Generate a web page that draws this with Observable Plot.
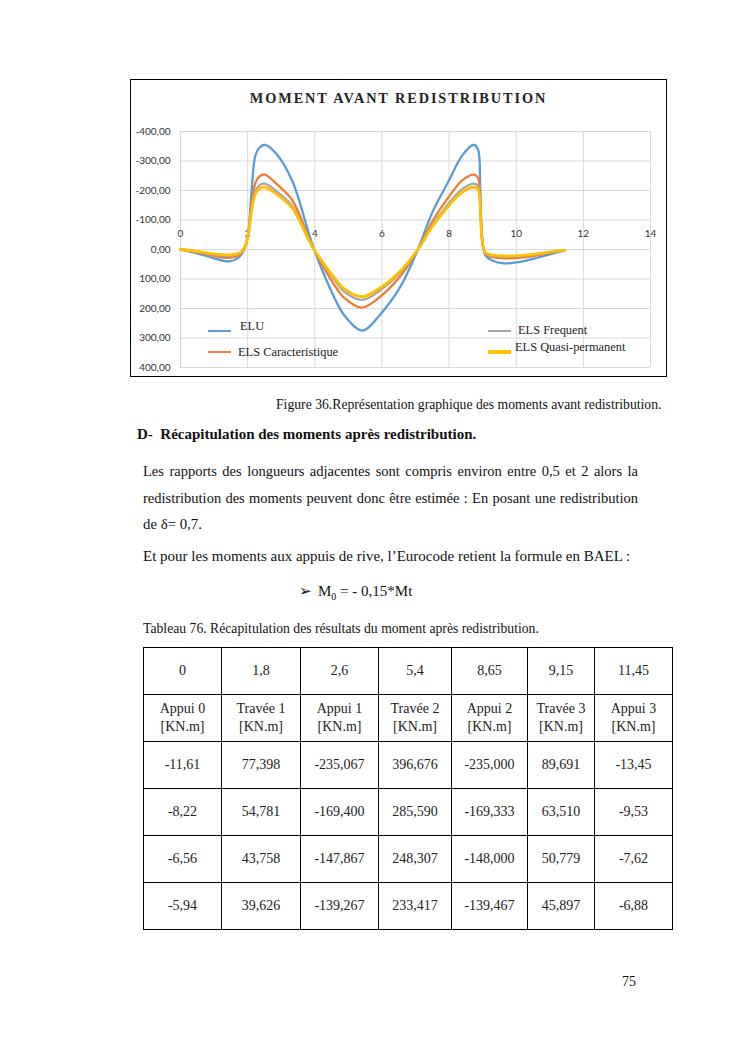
<!DOCTYPE html>
<html>
<head>
<meta charset="utf-8">
<script src="https://cdn.jsdelivr.net/npm/d3@7"></script>
<script src="https://cdn.jsdelivr.net/npm/@observablehq/plot@0.6"></script>
<style>
  html, body { margin: 0; padding: 0; background: #fff; }
  #page { position: relative; width: 745px; height: 1053px; overflow: hidden; font-family: "Liberation Serif", serif; color: #111; }
  .abs { position: absolute; white-space: nowrap; }
  .just { position: absolute; width: 495px; text-align: justify; text-align-last: justify; white-space: nowrap; font-size: 14.5px; line-height: 19px; }
  #chart { position: absolute; left: 130px; top: 79px; width: 537px; height: 298px; }
  #chartBorder { position: absolute; left: 130px; top: 79px; width: 537px; height: 298px; border: 1.6px solid #000; box-sizing: border-box; pointer-events: none; }
  .leg-line { position: absolute; }
  .leg-text { position: absolute; font-family: "Liberation Serif", serif; font-size: 12.4px; line-height: 14px; white-space: nowrap; color: #222; }
  table.recap { position: absolute; left: 143px; top: 647px; width: 529px; table-layout: fixed; border-collapse: collapse; font-family: "Liberation Serif", serif; font-size: 14px; color: #222; }
  table.recap td { border: 1px solid #000; text-align: center; vertical-align: middle; padding: 0; height: 46px; line-height: 18px; }
</style>
</head>
<body>
<div id="page">
  <div id="chart"></div>
  <div id="chartBorder"></div>
  <div class="abs" style="left:130px;width:537px;top:89px;text-align:center;font-family:'Liberation Serif',serif;font-weight:bold;font-size:14.3px;letter-spacing:1.9px;line-height:18px;color:#222;">MOMENT AVANT REDISTRIBUTION</div>
  <div id="legend"></div>

  <div class="abs" style="left:276px;top:396px;font-size:13.7px;line-height:17px;">Figure 36.Représentation graphique des moments avant redistribution.</div>
  <div class="abs" style="left:137px;top:425px;font-size:15px;font-weight:bold;line-height:19px;">D-&nbsp; Récapitulation des moments après redistribution.</div>
  <div class="just" style="left:143px;top:462px;">Les rapports des longueurs adjacentes sont compris environ entre 0,5 et 2 alors la</div>
  <div class="just" style="left:143px;top:489px;">redistribution des moments peuvent donc être estimée : En posant une redistribution</div>
  <div class="abs" style="left:143px;top:515px;font-size:14.8px;line-height:19px;">de δ= 0,7.</div>
  <div class="abs" style="left:143px;top:547px;font-size:15px;line-height:19px;">Et pour les moments aux appuis de rive, l’Eurocode retient la formule en BAEL :</div>
  <div class="abs" style="left:299px;top:582px;font-size:15px;line-height:19px;font-family:'DejaVu Sans',sans-serif;">➢</div>
  <div class="abs" style="left:318px;top:582px;font-size:15px;line-height:19px;">M<sub style="font-size:10px;">0</sub> = - 0,15*Mt</div>
  <div class="abs" style="left:143px;top:620px;font-size:13.7px;line-height:17px;">Tableau 76. Récapitulation des résultats du moment après redistribution.</div>
  <table class="recap" id="recap"></table>
  <div class="abs" style="left:622px;top:973px;font-size:14px;line-height:18px;">75</div>
</div>
<script>
// ---- chart data ----
const xTicks = [0, 2, 4, 6, 8, 10, 12, 14];
const yTicks = [-400, -300, -200, -100, 0, 100, 200, 300, 400];
const seriesNames = ["ELU", "ELS Caracteristique", "ELS Frequent", "ELS Quasi-permanent"];
const seriesColors = ["#5B9BD5", "#ED7D31", "#A5A5A5", "#FFC000"];
const abscissa = [0, 0.5, 1.0, 1.44, 1.7, 1.85, 2.0, 2.1, 2.23, 2.35, 2.51, 2.83, 3.33, 3.82, 3.98, 4.57, 4.87, 5.41, 5.95, 6.55, 7.07, 7.5, 8.0, 8.4, 8.74, 8.86, 8.93, 8.98, 9.08, 9.3, 9.63, 10.2, 10.72, 11.44];
const elu = [0, 13, 30, 40, 30, 10, -40, -170, -318, -345, -355, -328, -232, -55, 0, 160, 222, 275, 220, 126, 0, -125, -235, -320, -355, -340, -200, -50, 19, 38, 47, 40, 25, 3];
const elsCarac = [0, 9, 22, 28, 22, 7, -40, -140, -225, -248, -254, -226, -167, -40, 0, 118, 163, 197, 160, 90, 0, -95, -180, -235, -254, -244, -160, -40, 14, 26, 30, 27, 17, 2];
const elsFreq = [0, 7, 18, 22, 17, 5, -40, -125, -197, -218, -223, -200, -147, -35, 0, 100, 142, 171, 138, 78, 0, -82, -158, -205, -223, -215, -145, -35, 12, 22, 25, 22, 14, 2];
const elsQuasi = [0, 6, 15, 18, 14, 4, -40, -120, -188, -206, -211, -190, -140, -32, 0, 94, 133, 160, 130, 73, 0, -77, -150, -195, -211, -204, -138, -33, 10, 19, 22, 20, 13, 2];

// ---- table data ----
const tableAbscissa = ["0", "1,8", "2,6", "5,4", "8,65", "9,15", "11,45"];
const tableHeaders = ["Appui 0", "Travée 1", "Appui 1", "Travée 2", "Appui 2", "Travée 3", "Appui 3"];
const rowELU = ["-11,61", "77,398", "-235,067", "396,676", "-235,000", "89,691", "-13,45"];
const rowCarac = ["-8,22", "54,781", "-169,400", "285,590", "-169,333", "63,510", "-9,53"];
const rowFreq = ["-6,56", "43,758", "-147,867", "248,307", "-148,000", "50,779", "-7,62"];
const rowQuasi = ["-5,94", "39,626", "-139,267", "233,417", "-139,467", "45,897", "-6,88"];

const seriesValues = [elu, elsCarac, elsFreq, elsQuasi];
const widths = [2.3, 2.3, 2.3, 2.8];
const fmt = d => d.toFixed(2).replace(".", ",");

const lineMarks = seriesValues.map((vals, i) =>
  Plot.line(abscissa.map((x, j) => ({x, y: vals[j]})), {
    x: "x", y: "y", stroke: seriesColors[i], strokeWidth: widths[i], curve: "catmull-rom"
  })
);

const chart = Plot.plot({
  width: 537,
  height: 298,
  marginLeft: 50,
  marginRight: 17,
  marginTop: 52,
  marginBottom: 10,
  style: {fontFamily: "Lato, 'Open Sans', sans-serif", fontSize: "10px", color: "#333", background: "transparent"},
  x: {domain: [0, 14]},
  y: {domain: [-400, 400], reverse: true},
  marks: [
    Plot.gridX(xTicks, {stroke: "#d9d9d9", strokeOpacity: 1, strokeWidth: 1}),
    Plot.gridY(yTicks, {stroke: "#d9d9d9", strokeOpacity: 1, strokeWidth: 1}),
    Plot.axisY(yTicks, {tickSize: 0, tickPadding: 10, tickFormat: fmt, label: null, fontSize: 10}),
    Plot.axisX([], {label: null, tickSize: 0}),
    Plot.text(xTicks, {x: d => d, y: () => 0, dy: -16, text: d => String(d), fontSize: 10, fill: "#333"}),
    ...lineMarks
  ]
});
document.getElementById("chart").appendChild(chart);

// legend (inside plot area)
const legendPos = [
  {lx: 208, ly: 331, tx: 240, ty: 326},
  {lx: 208, ly: 352, tx: 238, ty: 352},
  {lx: 488, ly: 331, tx: 518, ty: 330},
  {lx: 488, ly: 352, tx: 515, ty: 347}
];
const legend = document.getElementById("legend");
seriesNames.forEach((name, i) => {
  const p = legendPos[i];
  const ln = document.createElement("div");
  ln.className = "leg-line";
  ln.style.left = p.lx + "px";
  ln.style.top = (p.ly - (i === 3 ? 1.8 : 1.2)) + "px";
  ln.style.width = "23px";
  ln.style.height = (i === 3 ? 3.6 : 2.4) + "px";
  ln.style.background = seriesColors[i];
  legend.appendChild(ln);
  const tx = document.createElement("div");
  tx.className = "leg-text";
  tx.style.left = p.tx + "px";
  tx.style.top = (p.ty - 7) + "px";
  tx.textContent = name;
  legend.appendChild(tx);
});

// table
const colW = [78, 79, 78, 73, 76, 67, 78];
const tbl = document.getElementById("recap");
const cg = document.createElement("colgroup");
colW.forEach(w => { const c = document.createElement("col"); c.style.width = w + "px"; cg.appendChild(c); });
tbl.appendChild(cg);
function addRow(cells, html) {
  const tr = document.createElement("tr");
  cells.forEach((c, i) => {
    const td = document.createElement("td");
    if (html) td.innerHTML = c; else td.textContent = c;
    tr.appendChild(td);
  });
  tbl.appendChild(tr);
}
addRow(tableAbscissa);
addRow(tableHeaders.map(h => h + "<br>[KN.m]"), true);
[rowELU, rowCarac, rowFreq, rowQuasi].forEach(r => addRow(r));
</script>
</body>
</html>
